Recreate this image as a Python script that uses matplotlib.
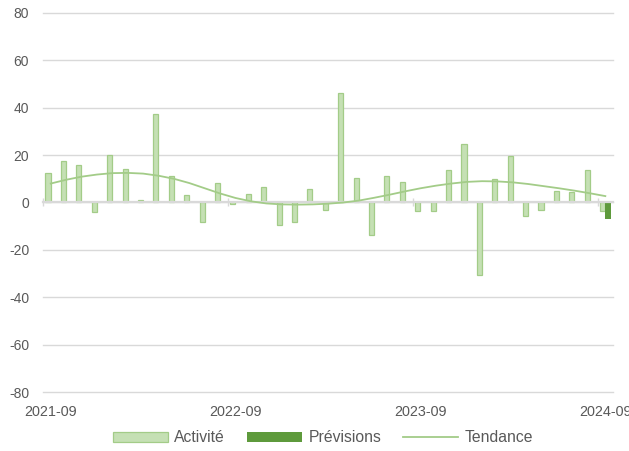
import matplotlib
matplotlib.use("Agg")
import matplotlib.pyplot as plt
import numpy as np
import pandas as pd
from matplotlib.patches import Patch
from matplotlib.lines import Line2D

plt.rcParams['font.family'] = ['Liberation Sans', 'DejaVu Sans']
plt.rcParams['axes.unicode_minus'] = False

# monthly categories, 2021-09 .. 2024-09
months = pd.period_range('2021-09', '2024-09', freq='M').strftime('%Y-%m').tolist()

activite = [12.5, 17.5, 16.0, -4.0, 20.0, 14.0, 1.0, 37.5, 11.0, 3.0, -8.3, 8.3,
            -0.6, 3.4, 6.5, -9.6, -8.3, 5.8, -3.2, 46.3, 10.3, -13.6, 11.3, 8.6,
            -3.4, -3.7, 13.9, 24.5, -30.8, 10.1, 19.5, -5.5, -3.0, 5.0, 4.5, 13.9,
            -3.7]
previsions = [np.nan] * 36 + [-6.9]
tendance = [8.0, 9.6, 10.9, 11.8, 12.4, 12.5, 12.2, 11.3, 10.0, 8.2, 6.0, 3.8,
            1.9, 0.5, -0.4, -0.8, -0.9, -0.8, -0.5, 0.0, 0.8, 2.0, 3.3, 4.7,
            6.0, 7.1, 8.0, 8.7, 9.0, 8.9, 8.5, 7.8, 6.9, 6.0, 5.0, 3.9, 2.7]
tick_labels = ['2021-09', '2022-09', '2023-09', '2024-09']

LIGHT = '#C5E0B4'
EDGE = '#A3CC88'
DARK = '#5E9A3C'
GRID = '#D9D9D9'
TEXT = '#595959'

fig = plt.figure(figsize=(6.29, 4.51), dpi=100)
ax = fig.add_axes([0.0684, 0.1308, 0.9062, 0.8404])

x = np.arange(len(months))
ax.bar(x + 0.325, activite, width=0.33, color=LIGHT, edgecolor=EDGE, linewidth=0.9, zorder=2)
ax.bar(x + 0.675, previsions, width=0.33, color=DARK, zorder=2)
ax.plot(x + 0.5, tendance, color=EDGE, linewidth=1.3, zorder=4)

ax.set_xlim(0, len(months))
ax.set_ylim(-80, 80)
ax.set_yticks(range(-80, 81, 20))
ax.yaxis.grid(True, color=GRID, linewidth=1, clip_on=False)
ax.set_axisbelow(True)
for name in ['top', 'right', 'left']:
    ax.spines[name].set_visible(False)
ax.tick_params(axis='y', length=0, pad=10, labelsize=10, labelcolor=TEXT)

# zero axis line with year tick marks
idx = [months.index(t) for t in tick_labels]
ax.spines['bottom'].set_position(('data', 0))
ax.spines['bottom'].set_color(GRID)
ax.spines['bottom'].set_linewidth(1.6)
ax.spines['bottom'].set_zorder(3)
ax.set_xticks(idx)
ax.tick_params(axis='x', direction='inout', length=6, width=1, color=GRID, labelbottom=False)

# labels at the bottom, centred on the month cell
sec = ax.secondary_xaxis('bottom')
sec.set_xticks([i + 0.5 for i in idx], tick_labels)
sec.spines['bottom'].set_visible(False)
sec.tick_params(length=0, pad=9, labelsize=10.4, labelcolor=TEXT)

handles = [Patch(facecolor=LIGHT, edgecolor=EDGE, linewidth=0.9),
           Patch(facecolor=DARK),
           Line2D([], [], color=EDGE, linewidth=1.3)]
fig.legend(handles, ['Activité', 'Prévisions', 'Tendance'], loc='center',
           bbox_to_anchor=(323 / 629, 1 - 438 / 451), ncol=3, frameon=False,
           fontsize=11.3, labelcolor=TEXT, handlelength=3.5, handleheight=0.65,
           handletextpad=0.4, columnspacing=1.4)

fig.savefig('out.png', dpi=100)
